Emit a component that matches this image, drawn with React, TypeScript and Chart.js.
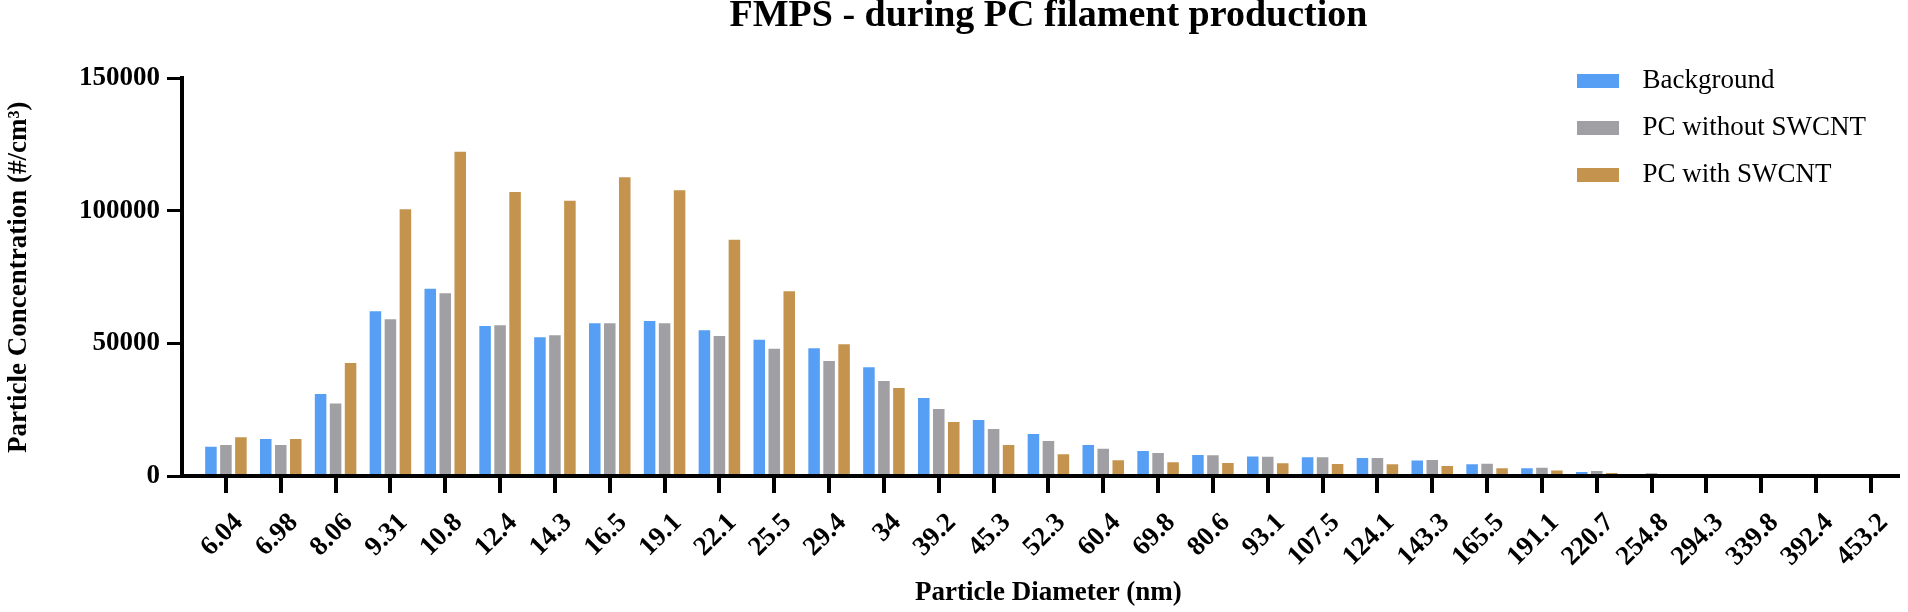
import React, { useEffect, useRef } from 'react';
import { Chart, registerables } from 'chart.js';

Chart.register(...registerables);

// ---------- data ----------
const diameters = [
  '6.04', '6.98', '8.06', '9.31', '10.8', '12.4', '14.3', '16.5', '19.1', '22.1',
  '25.5', '29.4', '34', '39.2', '45.3', '52.3', '60.4', '69.8', '80.6', '93.1',
  '107.5', '124.1', '143.3', '165.5', '191.1', '220.7', '254.8', '294.3', '339.8', '392.4', '453.2',
];

const background = [
  11000, 14000, 30900, 62100, 70600, 56600, 52300, 57600, 58500, 55000,
  51400, 48200, 41000, 29400, 21100, 15800, 11700, 9400, 7900, 7400,
  7100, 6800, 5800, 4400, 2900, 1500, 500, 200, 100, 50, 20,
];

const pcWithoutSwcnt = [
  11700, 11700, 27300, 59100, 68900, 56900, 53100, 57600, 57600, 52800,
  48000, 43400, 35800, 25300, 17700, 13200, 10300, 8700, 7800, 7300,
  7100, 6800, 6000, 4600, 3100, 1900, 1000, 400, 200, 100, 50,
];

const pcWithSwcnt = [
  14600, 14000, 42600, 100600, 122300, 107100, 103800, 112700, 107800, 89100,
  69700, 49700, 33200, 20400, 11700, 8200, 5900, 5200, 4900, 4800,
  4500, 4400, 3800, 2900, 2100, 1100, 300, 150, 80, 40, 20,
];

const seriesNames = ['Background', 'PC without SWCNT', 'PC with SWCNT'];
const seriesColors = ['#569ff5', '#a0a0a4', '#c4944e'];

const yMin = 0;
const yMax = 150000;
const yStep = 50000;

const chartTitle = 'FMPS - during PC filament production';
const xTitle = 'Particle Diameter (nm)';
const yTitle = 'Particle Concentration (#/cm\u00B3)';

const SERIF = "'Liberation Serif', 'Times New Roman', Times, serif";

function makeSwatch(color: string): HTMLCanvasElement {
  const c = document.createElement('canvas');
  c.width = 52;
  c.height = 14;
  const g = c.getContext('2d');
  if (g) {
    g.fillStyle = color;
    g.fillRect(0, 0, 42, 14);
  }
  return c;
}

const legendPlacer = {
  id: 'legendPlacer',
  afterLayout(chart: any) {
    const lg = chart.legend;
    if (!lg) return;
    const w = lg.width;
    const h = lg.height;
    lg.left = 1557;
    lg.right = 1557 + w;
    lg.top = 47.5;
    lg.bottom = 47.5 + h;
  },
};

export default function App() {
  const canvasRef = useRef<HTMLCanvasElement | null>(null);

  useEffect(() => {
    const canvas = canvasRef.current;
    if (!canvas) return;
    const swatches = seriesColors.map(makeSwatch);
    const series = [background, pcWithoutSwcnt, pcWithSwcnt];

    const chart = new Chart(canvas, {
      type: 'bar',
      data: {
        labels: diameters,
        datasets: series.map((values, i) => ({
          label: seriesNames[i],
          data: values,
          backgroundColor: seriesColors[i],
          borderWidth: 0,
          categoryPercentage: 0.82,
          barPercentage: 0.77,
          yAxisID: 'y',
        })),
      },
      options: {
        animation: false,
        responsive: true,
        maintainAspectRatio: false,
        layout: { padding: { left: 0, right: 4.5, top: 0, bottom: 0 } },
        plugins: {
          tooltip: { enabled: false },
          title: {
            display: true,
            text: chartTitle,
            color: '#000',
            fullSize: false,
            font: { family: SERIF, size: 38, weight: 'bold', lineHeight: 1 },
            padding: { top: -2.5, bottom: 42.8 },
          },
          legend: {
            position: 'chartArea',
            align: 'start',
            labels: {
              usePointStyle: true,
              pointStyleWidth: 52,
              boxHeight: 14,
              padding: 20,
              color: '#000',
              font: { family: SERIF, size: 27, weight: 'normal' },
              generateLabels: (c: any) => {
                const items = (Chart as any).defaults.plugins.legend.labels.generateLabels(c);
                return items.map((it: any, i: number) => ({ ...it, pointStyle: swatches[i] }));
              },
            },
          },
        },
        scales: {
          x: {
            type: 'category',
            position: 'bottom',
            offset: true,
            grid: {
              display: true,
              drawOnChartArea: false,
              drawTicks: true,
              offset: false,
              tickLength: 17,
              lineWidth: 4,
              color: '#000',
              z: 1,
            },
            border: { display: true, width: 4, color: '#000', z: 1 },
            ticks: {
              autoSkip: false,
              maxRotation: 45,
              minRotation: 45,
              padding: 14,
              labelOffset: 13,
              color: '#000',
              font: { family: SERIF, size: 27, weight: 'bold' },
            },
            title: {
              display: true,
              text: xTitle,
              color: '#000',
              font: { family: SERIF, size: 27, weight: 'bold', lineHeight: 1 },
              padding: { top: 0, bottom: 5.5 },
            },
            afterFit: (s: any) => {
              s.height = 136;
            },
          },
          y: {
            type: 'linear',
            position: 'left',
            weight: 1,
            min: yMin,
            max: yMax,
            ticks: {
              stepSize: yStep,
              padding: 7,
              color: '#000',
              font: { family: SERIF, size: 27, weight: 'bold' },
              callback: (v: any) => String(v),
            },
            grid: {
              display: true,
              drawOnChartArea: false,
              drawTicks: true,
              tickLength: 15,
              lineWidth: 3,
              color: '#000',
              z: 1,
            },
            border: { display: true, width: 4, color: '#000', z: 1 },
            title: {
              display: true,
              text: yTitle,
              color: '#000',
              font: { family: SERIF, size: 27, weight: 'bold', lineHeight: 1 },
              padding: { top: 5.5, bottom: 0 },
            },
            afterFit: (s: any) => {
              s.width = 182;
            },
          },
          yBase: {
            type: 'linear',
            position: 'left',
            weight: 0,
            min: yMin,
            max: yMax,
            ticks: { display: false, stepSize: yStep },
            grid: {
              display: true,
              drawOnChartArea: true,
              drawTicks: true,
              tickLength: 16.5,
              z: 1,
              lineWidth: (ctx: any) => (ctx.tick && ctx.tick.value === 0 ? 4 : 0),
              color: (ctx: any) => (ctx.tick && ctx.tick.value === 0 ? '#000' : 'rgba(0,0,0,0)'),
            },
            border: { display: false },
            afterFit: (s: any) => {
              s.width = 16.5;
            },
          },
        },
      } as any,
      plugins: [legendPlacer],
    });

    return () => {
      chart.destroy();
    };
  }, []);

  return (
    <div style={{ position: 'fixed', left: 0, top: 0, width: 1908, height: 612, background: '#fff' }}>
      <canvas ref={canvasRef} />
    </div>
  );
}
